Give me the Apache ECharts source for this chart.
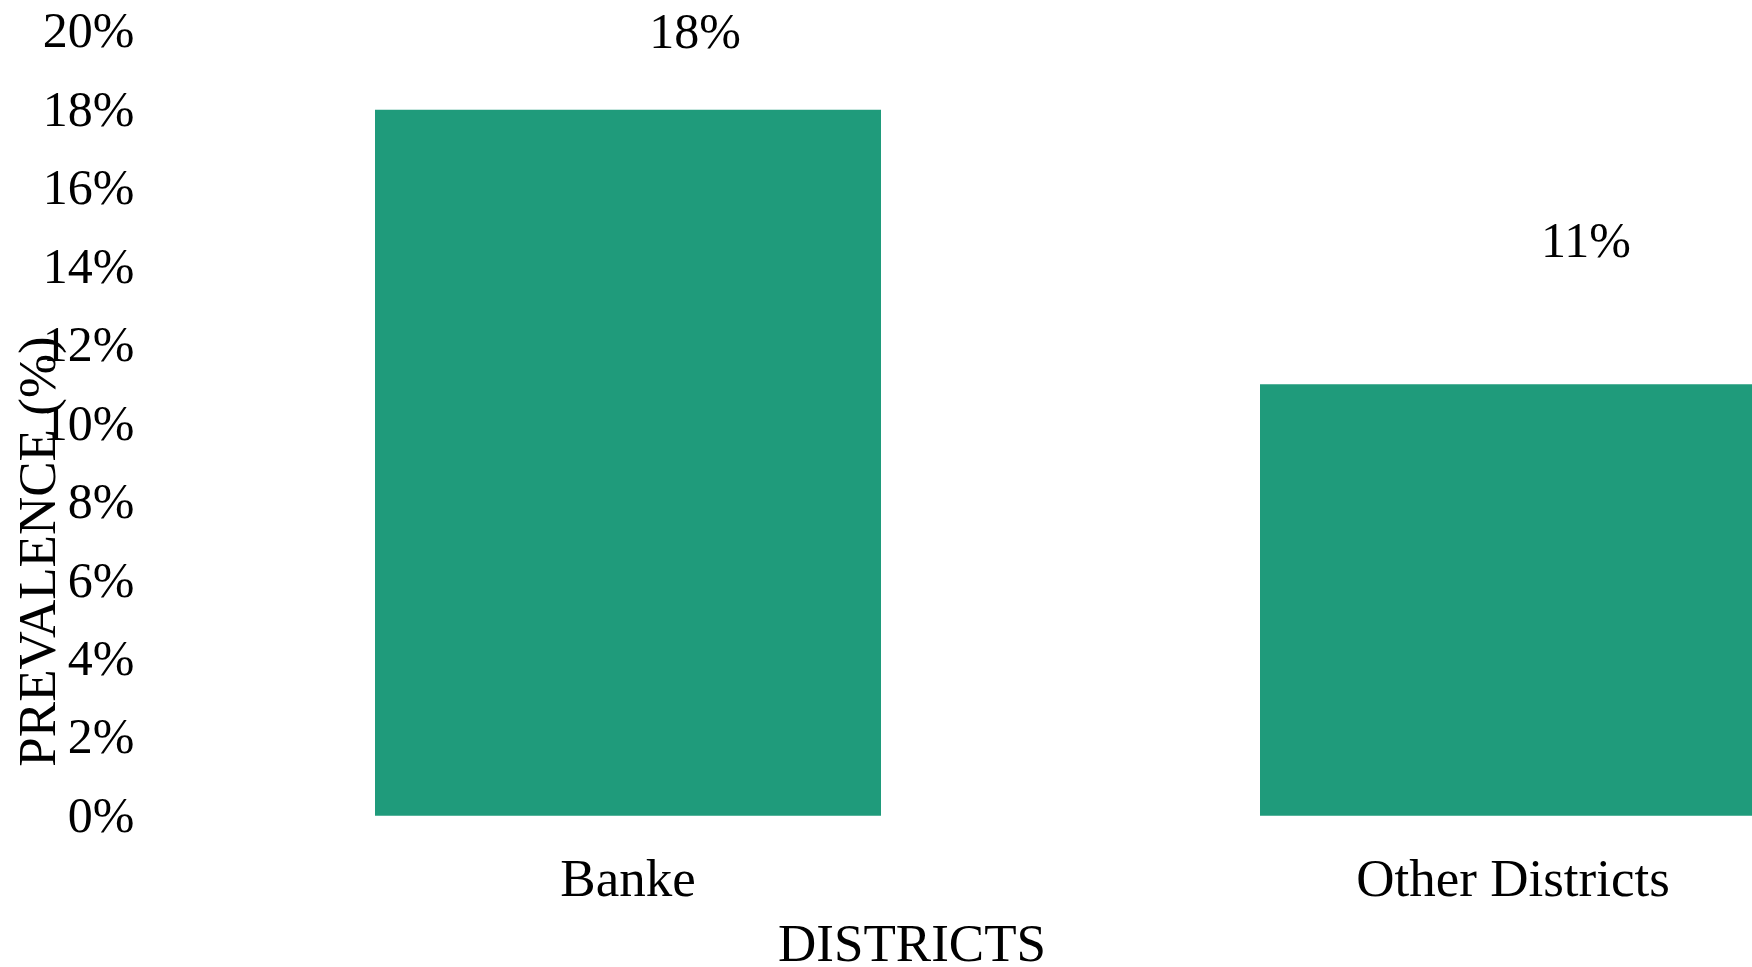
<!DOCTYPE html>
<html>
<head>
<meta charset="utf-8">
<script src="https://cdn.jsdelivr.net/npm/echarts@6/dist/echarts.min.js"></script>
<style>
html,body{margin:0;padding:0;background:#fff;}
#chart{width:1752px;height:967px;}
</style>
</head>
<body>
<div id="chart"></div>
<script>
const categories = ['Banke', 'Other Districts'];
const prevalence = [18, 11];
const yTicks = { min: 0, max: 20, interval: 2 };
const xTitle = 'DISTRICTS';
const yTitle = 'PREVALENCE (%)';

const FONT = "'Liberation Serif', 'Times New Roman', serif";
const labelOffsets = [[67, -45], [73, -110]];

const chart = echarts.init(document.getElementById('chart'));
chart.setOption({
  backgroundColor: '#fff',
  animation: false,
  grid: { left: 185.5, top: 31.3, width: 1770, bottom: 151.3, outerBoundsMode: 'none', containLabel: false },
  xAxis: {
    type: 'category',
    data: categories,
    axisLine: { show: false },
    axisTick: { show: false },
    splitLine: { show: false },
    axisLabel: { color: '#000', fontFamily: FONT, fontSize: 53, margin: 40 },
    name: xTitle,
    nameLocation: 'middle',
    nameGap: 105,
    nameMoveOverlap: false,
    nameTextStyle: { color: '#000', fontFamily: FONT, fontSize: 53, padding: [0, 317, 0, 0] }
  },
  yAxis: {
    type: 'value',
    min: yTicks.min,
    max: yTicks.max,
    interval: yTicks.interval,
    axisLine: { show: false },
    axisTick: { show: false },
    splitLine: { show: false },
    axisLabel: {
      color: '#000', fontFamily: FONT, fontSize: 50, margin: 51,
      formatter: function (v) { return '{t|' + v + '%}'; },
      rich: { t: { color: '#000', fontFamily: FONT, fontSize: 50, padding: [6, 0, 0, 0] } }
    },
    name: yTitle,
    nameLocation: 'middle',
    nameGap: 118,
    nameMoveOverlap: false,
    nameTextStyle: { color: '#000', fontFamily: FONT, fontSize: 53, padding: [0, 256, 0, 0] }
  },
  series: [{
    type: 'bar',
    barWidth: 506,
    itemStyle: { color: '#1F9B7B' },
    data: prevalence.map((v, i) => ({
      value: v,
      label: { offset: labelOffsets[i] }
    })),
    label: {
      show: true,
      position: 'top',
      color: '#000',
      fontFamily: FONT,
      fontSize: 50,
      formatter: '{c}%'
    }
  }]
});
</script>
</body>
</html>
